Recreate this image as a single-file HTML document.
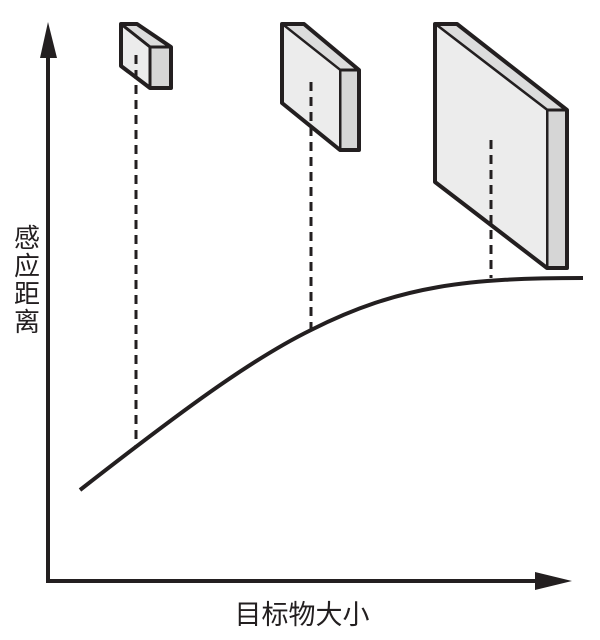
<!DOCTYPE html>
<html><head><meta charset="utf-8"><style>
html,body{margin:0;padding:0;background:#fff;width:600px;height:640px;overflow:hidden}
svg{display:block}
text{font-family:"Liberation Sans","Noto Sans CJK SC",sans-serif;fill:#231f20}
</style></head><body>
<svg width="600" height="640" viewBox="0 0 600 640" xmlns="http://www.w3.org/2000/svg">
<g stroke="#231f20" stroke-linejoin="round">
<!-- box1 -->
<polygon points="121,24 137,24 171,47 150,47" fill="#dcdcdc" stroke-width="3"/>
<polygon points="150,47 171,47 171,88 150,88" fill="#d6d6d6" stroke-width="3"/>
<polygon points="121,24 150,47 150,88 121,66" fill="#ececec" stroke-width="3"/>
<polygon points="121,24 137,24 171,47 171,88 150,88 121,66" fill="none" stroke-width="4"/>
<!-- box2 -->
<polygon points="282,24 304,24 359,70 340,70" fill="#dcdcdc" stroke-width="3"/>
<polygon points="340,70 359,70 359,150 340,150" fill="#d6d6d6" stroke-width="3"/>
<polygon points="282,24 340,70 340,150 282,103" fill="#ececec" stroke-width="2"/>
<polygon points="282,24 304,24 359,70 359,150 340,150 282,103" fill="none" stroke-width="4"/>
<!-- box3 -->
<polygon points="435,24 457,24 567,110 547,110" fill="#dcdcdc" stroke-width="3"/>
<polygon points="547,110 567,110 567,268 547,268" fill="#d6d6d6" stroke-width="3"/>
<polygon points="435,24 547,110 547,268 435,182" fill="#ececec" stroke-width="2"/>
<polygon points="435,24 457,24 567,110 567,268 547,268 435,182" fill="none" stroke-width="4"/>
<!-- dashed -->
<g stroke-width="3" stroke-dasharray="9,6" fill="none">
<line x1="136" y1="55" x2="136" y2="447"/>
<line x1="311" y1="82" x2="311" y2="330"/>
<line x1="491" y1="140" x2="491" y2="278"/>
</g>
<!-- curve -->
<path d="M80,490 C180,412 250,360 311,330 C400,285 470,278 583,278" fill="none" stroke-width="4"/>
<!-- axes -->
<polyline points="48,55 48,581 540,581" fill="none" stroke-width="4" stroke-linejoin="miter"/>
</g>
<polygon points="48,22 40,58 57,58" fill="#231f20"/>
<polygon points="572,581 535,572 535,590" fill="#231f20"/>
<text x="27" y="247" font-size="26" text-anchor="middle">感</text>
<text x="27" y="275" font-size="26" text-anchor="middle">应</text>
<text x="27" y="303" font-size="26" text-anchor="middle">距</text>
<text x="27" y="331" font-size="26" text-anchor="middle">离</text>
<text x="302" y="624" font-size="27" text-anchor="middle">目标物大小</text>
</svg>
</body></html>
